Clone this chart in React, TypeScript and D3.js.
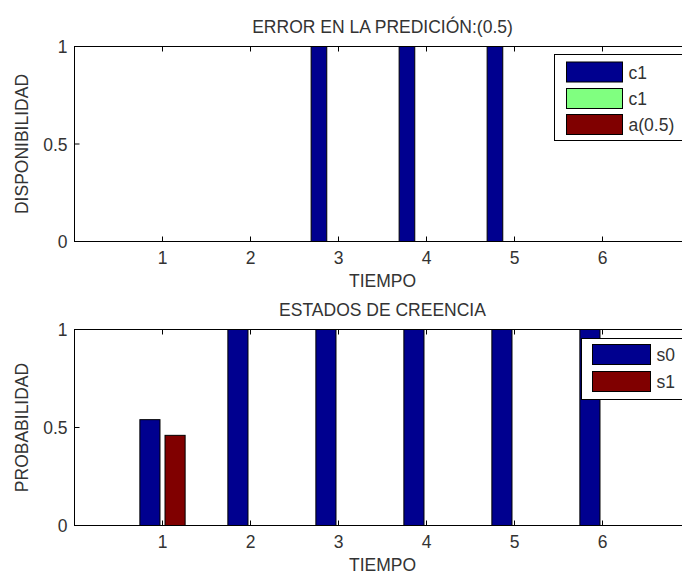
import React from "react";
import * as d3 from "d3";

const times = [1, 2, 3, 4, 5, 6];
const xTicks = [1, 2, 3, 4, 5, 6];
const yTicks = [0, 0.5, 1];
const yTickLabels = ["0", "0.5", "1"];

// Top chart series
const topSeriesNames = ["c1", "c1", "a(0.5)"];
const topC1 = [0, 0, 1, 1, 1, 0];
const topC1b = [0, 0, 0, 0, 0, 0];
const topA = [0, 0, 0, 0, 0, 0];
const topColors = ["#00008f", "#80ff80", "#800000"];

// Bottom chart series
const botSeriesNames = ["s0", "s1"];
const botS0 = [0.54, 1, 1, 1, 1, 1];
const botS1 = [0.46, 0, 0, 0, 0, 0];
const botColors = ["#00008f", "#800000"];

const FONT = "'Liberation Sans', Arial, sans-serif";
const TXT = "#333";
const FS = 17.5;

type Panel = {
  top: number;
  bottom: number;
  title: string;
  ylabel: string;
  series: number[][];
  names: string[];
  colors: string[];
  legend: { x: number; y: number; h: number; swX: number; swW: number; swH: number; rowY: number[] };
};

function BarPanel({ p }: { p: Panel }) {
  const x = d3.scaleLinear().domain([0, 7]).range([74.5, 690.5]);
  const y = d3.scaleLinear().domain([0, 1]).range([p.bottom, p.top]);
  const n = p.series.length;
  const groupW = Math.min(0.8, n / (n + 1.5));
  const slot = groupW / n;
  const barW = slot * 0.8;
  const tickLen = 5;
  const midY = (p.top + p.bottom) / 2;
  return (
    <g fontFamily={FONT} fill={TXT}>
      <text x={382.5} y={p.top - 14} fontSize={FS} textAnchor="middle">{p.title}</text>
      {p.series.map((vals, si) =>
        vals.map((v, i) => {
          if (v <= 0) return null;
          const cx = times[i] + (si - (n - 1) / 2) * slot;
          const x0 = x(cx - barW / 2);
          const x1 = x(cx + barW / 2);
          return (
            <rect key={si + "-" + i} x={x0} y={y(v)} width={x1 - x0} height={y(0) - y(v)}
              fill={p.colors[si]} stroke="#000" strokeWidth={1} />
          );
        })
      )}
      {/* axis box */}
      <rect x={x(0)} y={p.top} width={x(7) - x(0)} height={p.bottom - p.top} fill="none" stroke="#000" strokeWidth={1} />
      {xTicks.map((t) => (
        <g key={"xt" + t}>
          <line x1={x(t)} x2={x(t)} y1={p.bottom} y2={p.bottom - tickLen} stroke="#000" />
          <line x1={x(t)} x2={x(t)} y1={p.top} y2={p.top + tickLen} stroke="#000" />
          <text x={x(t)} y={p.bottom + 22} fontSize={FS} textAnchor="middle">{t}</text>
        </g>
      ))}
      {yTicks.map((t, i) => (
        <g key={"yt" + t}>
          <line x1={x(0)} x2={x(0) + tickLen} y1={y(t)} y2={y(t)} stroke="#000" />
          <text x={x(0) - 7} y={y(t) + 6.5} fontSize={FS} textAnchor="end">{yTickLabels[i]}</text>
        </g>
      ))}
      <text x={382.5} y={p.bottom + 45} fontSize={FS} textAnchor="middle">TIEMPO</text>
      <text transform={`translate(28,${midY}) rotate(-90)`} fontSize={FS} textAnchor="middle">{p.ylabel}</text>
      {/* legend */}
      <rect x={p.legend.x} y={p.legend.y} width={200} height={p.legend.h} fill="#fff" stroke="#000" strokeWidth={1} />
      {p.names.map((nm, i) => (
        <g key={"lg" + i}>
          <rect x={p.legend.swX} y={p.legend.rowY[i]} width={p.legend.swW} height={p.legend.swH}
            fill={p.colors[i]} stroke="#000" strokeWidth={1} />
          <text x={p.legend.swX + p.legend.swW + 6} y={p.legend.rowY[i] + p.legend.swH / 2 + 6.5} fontSize={FS}>{nm}</text>
        </g>
      ))}
    </g>
  );
}

export default function App() {
  const topPanel: Panel = {
    top: 46.5,
    bottom: 241.5,
    title: "ERROR EN LA PREDICIÓN:(0.5)",
    ylabel: "DISPONIBILIDAD",
    series: [topC1, topC1b, topA],
    names: topSeriesNames,
    colors: topColors,
    legend: { x: 554.5, y: 54.5, h: 86, swX: 566.5, swW: 56, swH: 20, rowY: [62, 88.5, 114.5] },
  };
  const botPanel: Panel = {
    top: 329.5,
    bottom: 525.5,
    title: "ESTADOS DE CREENCIA",
    ylabel: "PROBABILIDAD",
    series: [botS0, botS1],
    names: botSeriesNames,
    colors: botColors,
    legend: { x: 581.5, y: 338.5, h: 61, swX: 592.5, swW: 58, swH: 20, rowY: [344.5, 371.5] },
  };
  return (
    <svg width={682} height={573} style={{ position: "absolute", left: 0, top: 0, background: "#fff" }}>
      <rect width={682} height={573} fill="#fff" />
      <BarPanel p={topPanel} />
      <BarPanel p={botPanel} />
    </svg>
  );
}
